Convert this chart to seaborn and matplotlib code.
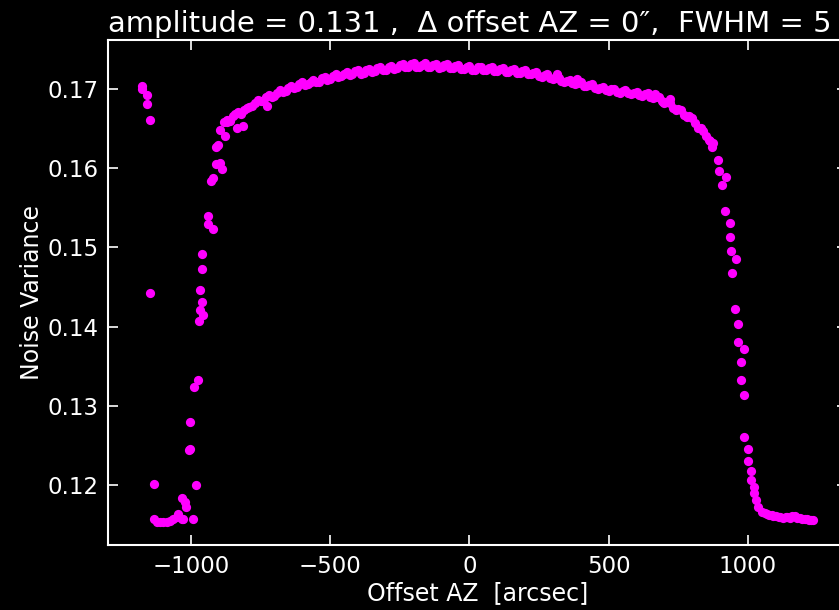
import matplotlib
matplotlib.use("Agg")
import matplotlib.pyplot as plt
import numpy as np
import pandas as pd
import seaborn as sns

# ---- data ----
# isolated points at the far left
left_x = [-1177, -1177, -1156, -1156, -1146, -1146, -1132]
left_y = [0.17038, 0.16996, 0.16924, 0.16807, 0.16601, 0.14422, 0.12009]

# bottom-left cluster and rising edge
rise_x = [-1132, -1123, -1111, -1099, -1087, -1075, -1064, -1051, -1046, -1033,
          -1028, -1033, -1022, -1018, -994, -980, -1003, -1007, -1003, -988,
          -976, -972, -968, -958, -959, -968, -959, -959, -920, -940,
          -940, -926, -922, -910, -896, -890, -908, -902, -896, -872,
          -878, -836, -812, -728]
rise_y = [0.11568, 0.11538, 0.11538, 0.11530, 0.11538, 0.11547, 0.11568, 0.11601, 0.11635, 0.11576,
          0.11568, 0.11832, 0.11790, 0.11727, 0.11572, 0.12000, 0.12453, 0.12441, 0.12794, 0.13238,
          0.13331, 0.14065, 0.14204, 0.14141, 0.14309, 0.14456, 0.14720, 0.14918, 0.15224, 0.15296,
          0.15397, 0.15832, 0.15870, 0.16052, 0.16068, 0.15989, 0.16270, 0.16295, 0.16480, 0.16576,
          0.16408, 0.16505, 0.16534, 0.16786]

# main plateau arc (two interleaved rows of samples)
arc_x = [-880, -860, -840, -820, -800, -780, -760, -740, -720, -700,
         -680, -660, -640, -620, -600, -580, -560, -540, -520, -500,
         -480, -460, -440, -420, -400, -380, -360, -340, -320, -300,
         -280, -260, -240, -220, -200, -180, -160, -140, -120, -100,
         -80, -60, -40, -20, 0, 20, 40, 60, 80, 100,
         120, 140, 160, 180, 200, 220, 240, 260, 280, 300,
         320, 340, 360, 380, 400, 420, 440, 460, 480, 500,
         520, 540, 560, 580, 600, 620, 640, 660, 680, 700,
         720, 740, 760, 780, 800, 820, 840, 860, 875,
         313, 385, 666, 695, 720]
arc_y = [0.1658, 0.1659, 0.1668, 0.1668, 0.1676, 0.1678, 0.1686, 0.1685, 0.1692, 0.1691,
         0.1698, 0.1697, 0.1704, 0.1702, 0.1708, 0.1706, 0.1711, 0.1709, 0.1715, 0.1712,
         0.1718, 0.1716, 0.1721, 0.1718, 0.1723, 0.1720, 0.1725, 0.1722, 0.1727, 0.1724,
         0.1729, 0.1726, 0.1731, 0.1728, 0.1732, 0.1728, 0.1732, 0.1727, 0.1731, 0.1727,
         0.1731, 0.1726, 0.1730, 0.1725, 0.1729, 0.1724, 0.1728, 0.1723, 0.1727, 0.1722,
         0.1726, 0.1721, 0.1725, 0.1720, 0.1723, 0.1718, 0.1721, 0.1715, 0.1718, 0.1712,
         0.1714, 0.1709, 0.1711, 0.1706, 0.1708, 0.1703, 0.1706, 0.1700, 0.1702, 0.1697,
         0.1700, 0.1695, 0.1698, 0.1693, 0.1696, 0.1691, 0.1694, 0.1688, 0.1690, 0.1682,
         0.1682, 0.1673, 0.1673, 0.1664, 0.1663, 0.1651, 0.1647, 0.1635, 0.1632,
         0.1719, 0.1712, 0.1693, 0.1683, 0.1687]

arc2_x = [-870, -850, -830, -810, -790, -770, -750, -730, -710, -690,
          -670, -650, -630, -610, -590, -570, -550, -530, -510, -490,
          -470, -450, -430, -410, -390, -370, -350, -330, -310, -290,
          -270, -250, -230, -210, -190, -170, -150, -130, -110, -90,
          -70, -50, -30, -10, 10, 30, 50, 70, 90, 110,
          130, 150, 170, 190, 210, 230, 250, 270, 290, 310,
          330, 350, 370, 390, 410, 430, 450, 470, 490, 510,
          530, 550, 570, 590, 610, 630, 650, 670, 690, 710,
          730, 750, 770, 790, 810, 830, 850, 865]
arc2_y = [0.1661, 0.1665, 0.1670, 0.1673, 0.1677, 0.1682, 0.1684, 0.1689, 0.1690, 0.1695,
          0.1696, 0.1701, 0.1701, 0.1706, 0.1705, 0.1709, 0.1708, 0.1713, 0.1711, 0.1716,
          0.1715, 0.1719, 0.1717, 0.1722, 0.1719, 0.1724, 0.1721, 0.1726, 0.1723, 0.1728,
          0.1725, 0.1730, 0.1727, 0.1731, 0.1728, 0.1730, 0.1728, 0.1730, 0.1726, 0.1730,
          0.1726, 0.1729, 0.1725, 0.1728, 0.1724, 0.1727, 0.1723, 0.1726, 0.1722, 0.1725,
          0.1721, 0.1724, 0.1720, 0.1722, 0.1718, 0.1720, 0.1716, 0.1717, 0.1713, 0.1713,
          0.1710, 0.1710, 0.1707, 0.1707, 0.1704, 0.1705, 0.1701, 0.1701, 0.1698, 0.1699,
          0.1696, 0.1697, 0.1694, 0.1695, 0.1692, 0.1693, 0.1689, 0.1690, 0.1684, 0.1683,
          0.1676, 0.1674, 0.1667, 0.1665, 0.1657, 0.1650, 0.1640, 0.1634]

# right falling edge and tail
fall_x = [870, 893, 897, 921, 908, 918, 934, 934, 941, 956,
          943, 954, 964, 964, 986, 974, 974, 985, 985, 1000,
          1001, 1011, 1011, 1021, 1023, 1029, 1037, 1049, 1060, 1067,
          1075, 1085, 1091, 1100, 1110, 1115, 1125, 1135, 1139, 1150,
          1160, 1169, 1175, 1187, 1195, 1205, 1211, 1220, 1228, 1235]
fall_y = [0.16261, 0.16102, 0.15958, 0.15883, 0.15787, 0.15455, 0.15309, 0.15127, 0.14951, 0.14855,
          0.14679, 0.14217, 0.14028, 0.13801, 0.13713, 0.13549, 0.13331, 0.13137, 0.12608, 0.12450,
          0.12298, 0.12172, 0.12063, 0.11979, 0.11895, 0.11811, 0.11727, 0.11664, 0.11642, 0.11631,
          0.11620, 0.11628, 0.11613, 0.11605, 0.11598, 0.11593, 0.11588, 0.11600, 0.11593, 0.11590,
          0.11608, 0.11613, 0.11585, 0.11580, 0.11575, 0.11578, 0.11568, 0.11565, 0.11560, 0.11559]

x_ticks = [-1000, -500, 0, 500, 1000]
y_ticks = [0.12, 0.13, 0.14, 0.15, 0.16, 0.17]

title_text = "amplitude = 0.131 ,  \u0394 offset AZ = 0\u2033,  FWHM = 5"
x_label = "Offset AZ  [arcsec]"
y_label = "Noise Variance"

df = pd.DataFrame({
    "x": left_x + rise_x + arc_x + arc2_x + fall_x,
    "y": left_y + rise_y + arc_y + arc2_y + fall_y,
})

sns.set_style("ticks")
plt.rcParams["font.family"] = ["DejaVu Sans"]

fig = plt.figure(figsize=(8.39, 6.10), dpi=100, facecolor="black")
ax = fig.add_axes([0.1287, 0.1061, 0.8808, 0.8277])
ax.set_facecolor("black")

sns.scatterplot(data=df, x="x", y="y", color="#ff00ff", s=44,
                linewidth=0, ax=ax, legend=False, zorder=3)

ax.set_xticks(x_ticks)
ax.set_yticks(y_ticks)
ax.tick_params(direction="in", length=7.5, width=1.2, colors="white",
               labelsize=16.5, top=True, right=True, pad=7)
for sp in ax.spines.values():
    sp.set_color("white")
    sp.set_linewidth(1.5)

ax.set_xlabel(x_label, color="white", fontsize=17, labelpad=2)
ax.set_ylabel(y_label, color="white", fontsize=17, labelpad=2)
ax.set_title(title_text, loc="left", color="white", fontsize=20.9, pad=6)

fig.savefig("out.png", dpi=100, facecolor="black")
